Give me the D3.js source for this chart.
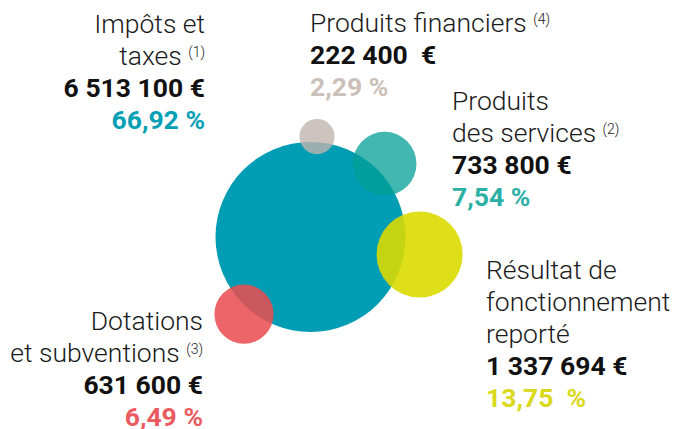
<!DOCTYPE html>
<html><head><meta charset="utf-8">
<script src="https://cdn.jsdelivr.net/npm/d3@7"></script>
<style>
html,body{margin:0;padding:0;background:#fff;}
svg{display:block;font-family:Roboto,"Noto Sans",sans-serif;}
</style></head>
<body>
<svg id="chart" width="673" height="429"></svg>
<script>
// ---- data ----
const categories = ["Impôts et taxes","Produits financiers","Produits des services","Résultat de fonctionnement reporté","Dotations et subventions"];
const labelLines = [["Impôts et","taxes"],["Produits financiers"],["Produits","des services"],["Résultat de","fonctionnement","reporté"],["Dotations","et subventions"]];
const amounts = [6513100, 222400, 733800, 1337694, 631600];
const amountLabels = ["6 513 100 €","222 400  €","733 800 €","1 337 694 €","631 600 €"];
const percentLabels = ["66,92 %","2,29 %","7,54 %","13,75  %","6,49 %"];
const notes = ["(1)","(4)","(2)","","(3)"];

// ---- styles / layout ----
const fills   = ["#019db4","#c0b4af","#039f97","#dada00","#e94e52"];
const opac    = [1, 0.8, 0.75, 0.9, 0.87];
const pctCol  = ["#03a0b5","#cbbfba","#2bb0a6","#d9d91a","#ea5a5e"];
// bubble placement relative to the main bubble: angle (deg) and outward shift as fraction of own radius
const angles  = [0, -86.3, -44.7, 9.1, 130.8];
const shift   = [0, 0.32, 0.29, 0.36, 0.23];
const center  = {x: 310.5, y: 237};
const labelPos = [
  {x:205, y:32.7, anchor:"end"},
  {x:310, y:32.3, anchor:"start"},
  {x:452, y:109.5, anchor:"start"},
  {x:486, y:278.5, anchor:"start"},
  {x:203, y:329.5, anchor:"end"}
];
const lineStep = 32;

const svg = d3.select("#chart");
const r = d3.scaleSqrt().domain([0, d3.max(amounts)]).range([0, 95]);

const nodes = amounts.map((v,i)=>{
  const rad = r(v);
  let x = center.x, y = center.y;
  if (i>0){
    const d = r(amounts[0]) + shift[i]*rad;
    const a = angles[i]*Math.PI/180;
    x = center.x + d*Math.cos(a);
    y = center.y + d*Math.sin(a);
  }
  return {i, name:categories[i], value:v, r:rad, x, y};
});

svg.append("g").selectAll("circle").data(nodes).join("circle")
  .attr("cx",d=>d.x).attr("cy",d=>d.y).attr("r",d=>d.r)
  .attr("fill",d=>fills[d.i]).attr("fill-opacity",d=>opac[d.i]);

// labels
nodes.forEach((d,i)=>{
  const p = labelPos[i];
  const g = svg.append("g").attr("text-anchor",p.anchor);
  const lines = labelLines[i];
  lines.forEach((ln,k)=>{
    const t = g.append("text").attr("x",p.x).attr("y",p.y+k*lineStep)
      .attr("font-size",26.5).attr("font-weight",300).attr("fill","#1a1a1a")
      .style("white-space","pre");
    t.append("tspan").text(ln);
    if (k===lines.length-1 && notes[i]){
      t.append("tspan").text(" ");
      t.append("tspan").text(notes[i]).attr("font-size",14).attr("dy",-8);
    }
  });
  const n = lines.length;
  g.append("text").attr("x",p.x).attr("y",p.y+n*lineStep)
    .attr("font-size",26.5).attr("font-weight",700).attr("fill","#111")
    .style("white-space","pre").text(amountLabels[i]);
  g.append("text").attr("x",p.x).attr("y",p.y+(n+1)*lineStep)
    .attr("font-size",26.5).attr("font-weight",700).attr("fill",pctCol[i])
    .style("white-space","pre").text(percentLabels[i]);
});
</script>
</body></html>
